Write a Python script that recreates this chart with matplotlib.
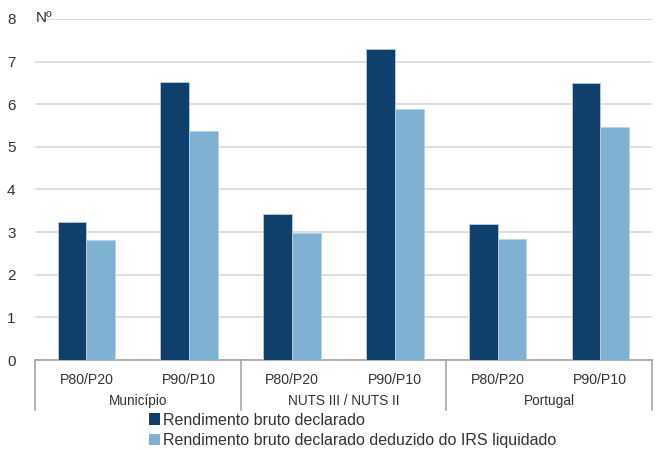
import matplotlib.pyplot as plt
import numpy as np
from matplotlib.patches import Patch
from matplotlib.transforms import blended_transform_factory

plt.rcParams['font.family'] = ['Liberation Sans', 'DejaVu Sans']

groups = ['Município', 'NUTS III / NUTS II', 'Portugal']
ratios = ['P80/P20', 'P90/P10']
series = ['Rendimento bruto declarado',
          'Rendimento bruto declarado deduzido do IRS liquidado']
bruto = [3.23, 6.53, 3.43, 7.30, 3.18, 6.49]
liquido = [2.82, 5.38, 2.97, 5.89, 2.84, 5.47]
colors = ['#0F3F6B', '#7FB2D2']

fig = plt.figure(figsize=(6.59, 4.5), dpi=100)
ax = fig.add_axes([0.053, 0.2, 0.936, 0.758])

x = np.arange(len(bruto))
w = 0.28
ax.bar(x - w / 2, bruto, w, color=colors[0], edgecolor='#B8CCDD', linewidth=0.6, zorder=3)
ax.bar(x + w / 2, liquido, w, color=colors[1], edgecolor='#B8D4E6', linewidth=0.6, zorder=3)

ax.set_ylim(0, 8)
ax.set_xlim(-0.5, len(bruto) - 0.5)
ax.set_yticks(range(9))
ax.yaxis.grid(True, color='#D9D9D9', linewidth=1.2, zorder=0)
ax.tick_params(axis='y', length=0, labelsize=11, colors='#333333', pad=14)
ax.tick_params(axis='x', length=0, labelsize=10.2, colors='#333333', pad=9)
ax.set_xticks(x)
ax.set_xticklabels(ratios * len(groups))
for s in ['top', 'right', 'left']:
    ax.spines[s].set_visible(False)
ax.spines['bottom'].set_color('#A6A6A6')
ax.spines['bottom'].set_linewidth(1.2)

ax.text(0.002, 8.02, 'Nº', fontsize=11, color='#333333', va='center', ha='left',
        transform=blended_transform_factory(ax.transAxes, ax.transData))

# two-level category axis
tr = blended_transform_factory(ax.transData, ax.transAxes)
for i in range(len(groups) + 1):
    ax.plot([i * 2 - 0.5] * 2, [0, -0.147], color='#A6A6A6', lw=1.2,
            transform=tr, clip_on=False)
for i, g in enumerate(groups):
    ax.text(i * 2 + 0.5, -0.12, g, ha='center', va='center', fontsize=9.8,
            color='#333333', transform=tr)

handles = [Patch(facecolor=c, edgecolor='none') for c in colors]
fig.legend(handles, series, loc='upper left', bbox_to_anchor=(0.226, 0.083),
           frameon=False, fontsize=11.5, handlelength=0.7, handleheight=0.7,
           handletextpad=0.15, labelspacing=0.35, borderaxespad=0, borderpad=0,
           labelcolor='#333333')

fig.savefig('out.png', dpi=100)
